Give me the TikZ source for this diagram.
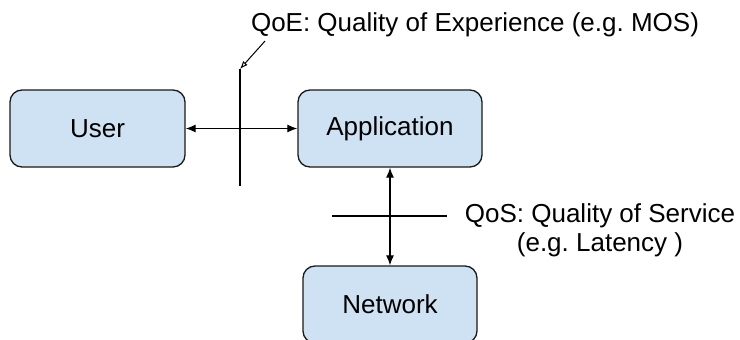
\documentclass[tikz,border=0pt]{standalone}
\usepackage{fontspec}
\setmainfont{Liberation Sans}
\usetikzlibrary{arrows.meta}
\definecolor{boxfill}{HTML}{CFE2F3}
\definecolor{boxline}{HTML}{1A1A1A}
\frenchspacing
\begin{document}
\begin{tikzpicture}[x=1pt,y=-1pt,
  box/.style={draw=boxline, fill=boxfill, rounded corners=12pt, line width=1.3pt,
    inner sep=0pt, font=\fontsize{26}{30}\selectfont},
  conn/.style={line width=1.2pt, {Latex[length=10pt,width=8pt]}-{Latex[length=10pt,width=8pt]}},
  plainline/.style={line width=1.2pt},
  pointer/.style={line width=1pt, -{Latex[open,length=8pt,width=6pt]}},
  lbl/.style={font=\fontsize{26}{29}\selectfont, align=center, inner sep=0pt}]
\useasboundingbox (0,0) rectangle (740,340);
% boxes
\node[box, minimum width=175pt, minimum height=77pt] (user) at (97.5,128.5) {User};
\node[box, minimum width=184pt, minimum height=77pt] (app) at (390,128.5) {Application};
\node[box, minimum width=174pt, minimum height=77pt] (net) at (390,304.5) {Network};
% labels
\node[lbl, anchor=base] (qoe) at (475,31) {QoE: Quality of Experience (e.g. MOS)};
\node[lbl] (qos) at (600,230.5) {QoS: Quality of Service\\(e.g. Latency )};
% coordinates
\coordinate (qoetop) at (240,69);
\coordinate (qoebot) at (240,186);
\coordinate (qoeptr) at (265,41);
\coordinate (qosl) at (332,216);
\coordinate (qosr) at (447,216);
% connectors
\draw[conn] (user.east) -- (app.west);
\draw[conn] (app.south) -- (net.north);
\draw[plainline] (qoetop) -- (qoebot);
\draw[plainline] (qosl) -- (qosr);
\draw[pointer] (qoeptr) -- (qoetop);
\end{tikzpicture}
\end{document}
